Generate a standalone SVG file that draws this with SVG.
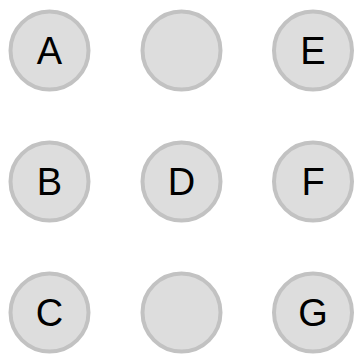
<svg xmlns="http://www.w3.org/2000/svg" width="360" height="361" viewBox="0 0 360 361">
<style>
.n circle{fill:#dddddd;stroke:#c2c2c2;stroke-width:4}
.n text{font-family:"Liberation Sans",Arial,sans-serif;font-size:38px;fill:#000;text-anchor:middle}
</style>
<rect width="360" height="361" fill="#ffffff"/>
<g id="connectors"></g>
<g id="A" class="n"><circle cx="49.5" cy="50.5" r="39"/><text x="49.5" y="64.3">A</text></g>
<g id="N1" class="n"><circle cx="181.5" cy="50.5" r="39"/></g>
<g id="E" class="n"><circle cx="313" cy="50.5" r="39"/><text x="313" y="64.3">E</text></g>
<g id="B" class="n"><circle cx="49.5" cy="181.5" r="39"/><text x="49.5" y="195.3">B</text></g>
<g id="D" class="n"><circle cx="181.5" cy="181.5" r="39"/><text x="181.5" y="195.3">D</text></g>
<g id="F" class="n"><circle cx="313" cy="181.5" r="39"/><text x="313" y="195.3">F</text></g>
<g id="C" class="n"><circle cx="49.5" cy="312.5" r="39"/><text x="49.5" y="326.3">C</text></g>
<g id="N2" class="n"><circle cx="181.5" cy="312.5" r="39"/></g>
<g id="G" class="n"><circle cx="313" cy="312.5" r="39"/><text x="313" y="326.3">G</text></g>
</svg>
